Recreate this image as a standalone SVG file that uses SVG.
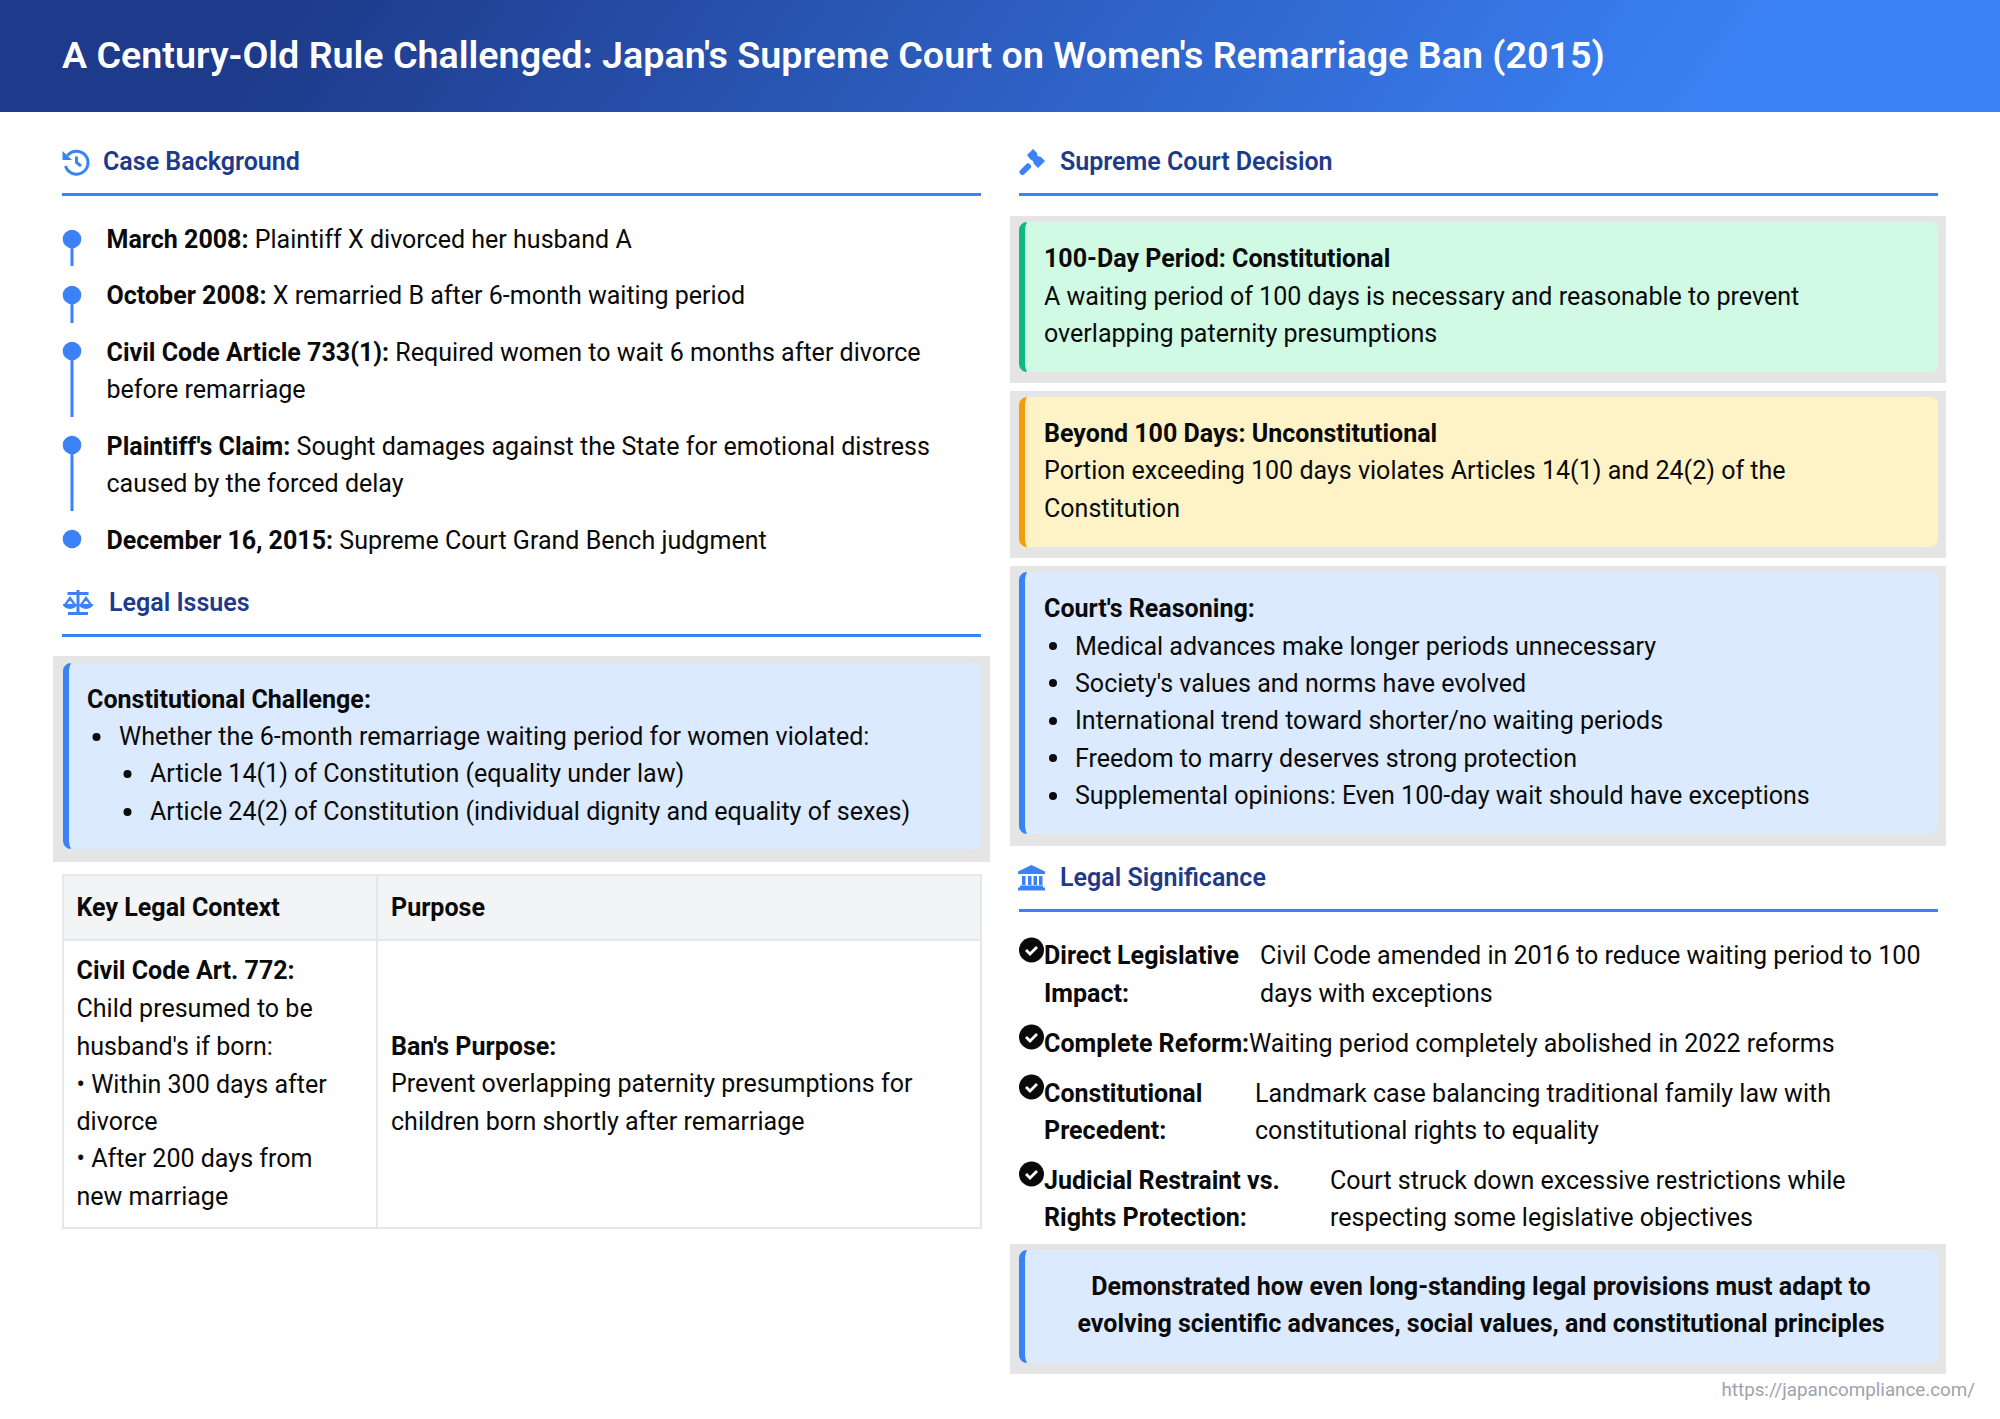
<svg xmlns="http://www.w3.org/2000/svg" width="2000" height="1419" viewBox="0 0 2000 1419">
<defs>
<linearGradient id="hg" gradientUnits="userSpaceOnUse" x1="500" y1="-300" x2="1500" y2="412"><stop offset="0" stop-color="#1e3a8a"/><stop offset="1" stop-color="#3b82f6"/></linearGradient>
</defs>
<style>
text{font-family:Roboto,"Liberation Sans",sans-serif;font-size:25.04px;fill:#0a0a0a}
.b{font-weight:700}
.h{font-size:25.04px;font-weight:600;fill:#1e3a8a}
.rule{fill:#3b82f6}
.gr{fill:#e5e5e5}
.tl{fill:#3b82f6}
.ic{fill:#3b82f6}
.c{text-anchor:middle}
.cell{fill:#fff;stroke:#e5e7eb;stroke-width:2}
</style>
<rect width="2000" height="1419" fill="#fff"/>
<g id="header"><rect width="2000" height="112" fill="url(#hg)"/><text x="62" y="68" style="font-size:37.65px;font-weight:600;fill:#fff">A Century-Old Rule Challenged: Japan's Supreme Court on Women's Remarriage Ban (2015)</text></g>

<g id="case-background">
<path class="ic" d="M62.500 151V160h9.500z"/><path d="M67.500 155.500A11.500 11.500 0 1 1 65.500 166" fill="none" stroke="#3b82f6" stroke-width="3"/><path d="M76.500 156.500V162.500L81 166" fill="none" stroke="#3b82f6" stroke-width="3"/>
<text class="h" x="103" y="170">Case Background</text><rect class="rule" x="62" y="193" width="919" height="3"/>
<circle class="tl" cx="72" cy="239" r="9.300"/><rect class="tl" x="70.500" y="239" width="3" height="27"/>
<text x="106.500" y="248"><tspan class="b">March 2008:</tspan> Plaintiff X divorced her husband A</text>
<circle class="tl" cx="72" cy="295" r="9.300"/><rect class="tl" x="70.500" y="295" width="3" height="28"/>
<text x="106.500" y="304"><tspan class="b">October 2008:</tspan> X remarried B after 6-month waiting period</text>
<circle class="tl" cx="72" cy="351" r="9.300"/><rect class="tl" x="70.500" y="351" width="3" height="66"/>
<text x="106.500" y="361"><tspan class="b">Civil Code Article 733(1):</tspan> Required women to wait 6 months after divorce</text>
<text x="106.500" y="398">before remarriage</text>
<circle class="tl" cx="72" cy="445" r="9.300"/><rect class="tl" x="70.500" y="445" width="3" height="66"/>
<text x="106.500" y="455"><tspan class="b">Plaintiff's Claim:</tspan> Sought damages against the State for emotional distress</text>
<text x="106.500" y="492">caused by the forced delay</text>
<circle class="tl" cx="72" cy="539" r="9.300"/>
<text x="106.500" y="549"><tspan class="b">December 16, 2015:</tspan> Supreme Court Grand Bench judgment</text>
</g>

<g id="legal-issues">
<path class="ic" d="M76.500 590h3v2h9v3h-9v17h8.500v3h-20v-3h8.500v-17h-9v-3h9z"/><path d="M70 598l-5 7h10zM86 598l-5 7h10z" fill="none" stroke="#3b82f6" stroke-width="2.200"/><path class="ic" d="M63 604h14a7 5 0 0 1-14 0zM79 604h14a7 5 0 0 1-14 0z"/>
<text class="h" x="109" y="611">Legal Issues</text><rect class="rule" x="62" y="634" width="919" height="3"/>
<rect class="gr" x="53" y="656" width="937" height="206"/>
<rect x="63" y="663" width="918" height="186" rx="8" fill="#dbeafe"/>
<path d="M71 663 A8 8 0 0 0 63 671 V841 A8 8 0 0 0 71 849 Q69 845 69 841 V671 Q69 667 71 663Z" fill="#3b82f6"/>
<text class="b" x="87" y="708">Constitutional Challenge:</text>
<circle cx="96.500" cy="737" r="4" fill="#0a0a0a"/><text x="119" y="745">Whether the 6-month remarriage waiting period for women violated:</text>
<circle cx="127.500" cy="774" r="4" fill="#0a0a0a"/><text x="150" y="782">Article 14(1) of Constitution (equality under law)</text>
<circle cx="127.500" cy="812" r="4" fill="#0a0a0a"/><text x="150" y="820">Article 24(2) of Constitution (individual dignity and equality of sexes)</text>
</g>

<g id="legal-table">
<rect class="cell" x="63" y="875" width="314" height="65" style="fill:#f3f4f6"/><rect class="cell" x="377" y="875" width="604" height="65" style="fill:#f3f4f6"/>
<rect class="cell" x="63" y="940" width="314" height="288"/><rect class="cell" x="377" y="940" width="604" height="288"/>
<text class="b" x="76.500" y="916">Key Legal Context</text><text class="b" x="391" y="916">Purpose</text>
<text class="b" x="76.500" y="979">Civil Code Art. 772:</text>
<text x="76.500" y="1017">Child presumed to be</text><text x="76.500" y="1054.500">husband's if born:</text><text x="76.500" y="1092.500">• Within 300 days after</text><text x="76.500" y="1129.500">divorce</text><text x="76.500" y="1167">• After 200 days from</text><text x="76.500" y="1204.500">new marriage</text>
<text class="b" x="391" y="1054.500">Ban's Purpose:</text><text x="391" y="1092">Prevent overlapping paternity presumptions for</text><text x="391" y="1129.500">children born shortly after remarriage</text>
</g>

<g id="court-decision">
<path d="M1022.500 172L1028 166.500" fill="none" stroke="#3b82f6" stroke-width="6" stroke-linecap="round"/><path class="ic" d="M1027 155L1033 149L1037 153L1037.500 156L1041 157L1045 161L1038 168L1034 164L1033 161L1030 159Z"/>
<text class="h" x="1060" y="170">Supreme Court Decision</text><rect class="rule" x="1019" y="193" width="919" height="3"/>
</g>
<g id="decision-100">
<rect class="gr" x="1010" y="216" width="936" height="167"/><rect x="1019" y="222" width="919" height="150" rx="8" fill="#d1fae5"/>
<path d="M1027 222 A8 8 0 0 0 1019 230 V364 A8 8 0 0 0 1027 372 Q1025 368 1025 364 V230 Q1025 226 1027 222Z" fill="#10b981"/>
<text class="b" x="1044" y="267">100-Day Period: Constitutional</text><text x="1044" y="304.500">A waiting period of 100 days is necessary and reasonable to prevent</text><text x="1044" y="342">overlapping paternity presumptions</text>
</g>
<g id="decision-beyond">
<rect class="gr" x="1010" y="391" width="936" height="167"/><rect x="1019" y="397" width="919" height="150" rx="8" fill="#fef3c7"/>
<path d="M1027 397 A8 8 0 0 0 1019 405 V539 A8 8 0 0 0 1027 547 Q1025 543 1025 539 V405 Q1025 401 1027 397Z" fill="#f59e0b"/>
<text class="b" x="1044" y="442">Beyond 100 Days: Unconstitutional</text><text x="1044" y="479">Portion exceeding 100 days violates Articles 14(1) and 24(2) of the</text><text x="1044" y="517">Constitution</text>
</g>
<g id="decision-reasoning">
<rect class="gr" x="1010" y="566" width="936" height="280"/><rect x="1019" y="572" width="919" height="262" rx="8" fill="#dbeafe"/>
<path d="M1027 572 A8 8 0 0 0 1019 580 V826 A8 8 0 0 0 1027 834 Q1025 830 1025 826 V580 Q1025 576 1027 572Z" fill="#3b82f6"/>
<text class="b" x="1044" y="617">Court's Reasoning:</text>
<circle cx="1053" cy="646" r="4" fill="#0a0a0a"/><text x="1075" y="654.500">Medical advances make longer periods unnecessary</text>
<circle cx="1053" cy="683" r="4" fill="#0a0a0a"/><text x="1075" y="691.500">Society's values and norms have evolved</text>
<circle cx="1053" cy="721" r="4" fill="#0a0a0a"/><text x="1075" y="729">International trend toward shorter/no waiting periods</text>
<circle cx="1053" cy="758" r="4" fill="#0a0a0a"/><text x="1075" y="766.500">Freedom to marry deserves strong protection</text>
<circle cx="1053" cy="796" r="4" fill="#0a0a0a"/><text x="1075" y="804">Supplemental opinions: Even 100-day wait should have exceptions</text>
</g>

<g id="legal-significance">
<path class="ic" d="M1031.500 865l13.500 6.500v2.500h-27v-2.500zM1022 876h3.500v9h-3.500zM1028 876h3.500v9h-3.500zM1033.500 876h3.500v9h-3.500zM1039 876h3.500v9h-3.500zM1020 885.500h23v2h2v3h-27v-3h2z"/>
<text class="h" x="1060" y="886">Legal Significance</text><rect class="rule" x="1019" y="909" width="919" height="3"/>
</g>
<g id="sig-1"><circle cx="1031.500" cy="950" r="12.500" fill="#0a0a0a"/><path d="M1026 950l4 4 7-7" fill="none" stroke="#fff" stroke-width="2.800"/>
<text class="b" x="1044" y="964">Direct Legislative</text><text class="b" x="1044" y="1002">Impact:</text><text x="1260" y="964">Civil Code amended in 2016 to reduce waiting period to 100</text><text x="1260" y="1002">days with exceptions</text></g>
<g id="sig-2"><circle cx="1031.500" cy="1037" r="12.500" fill="#0a0a0a"/><path d="M1026 1037l4 4 7-7" fill="none" stroke="#fff" stroke-width="2.800"/>
<text class="b" x="1044" y="1051.500">Complete Reform:</text><text x="1249" y="1051.500">Waiting period completely abolished in 2022 reforms</text></g>
<g id="sig-3"><circle cx="1031.500" cy="1087" r="12.500" fill="#0a0a0a"/><path d="M1026 1087l4 4 7-7" fill="none" stroke="#fff" stroke-width="2.800"/>
<text class="b" x="1044" y="1101.500">Constitutional</text><text class="b" x="1044" y="1139">Precedent:</text><text x="1255" y="1101.500">Landmark case balancing traditional family law with</text><text x="1255" y="1139">constitutional rights to equality</text></g>
<g id="sig-4"><circle cx="1031.500" cy="1174" r="12.500" fill="#0a0a0a"/><path d="M1026 1174l4 4 7-7" fill="none" stroke="#fff" stroke-width="2.800"/>
<text class="b" x="1044" y="1189">Judicial Restraint vs.</text><text class="b" x="1044" y="1226">Rights Protection:</text><text x="1330" y="1189">Court struck down excessive restrictions while</text><text x="1330" y="1226">respecting some legislative objectives</text></g>
<g id="conclusion">
<rect class="gr" x="1010" y="1244" width="936" height="130"/><rect x="1019" y="1250" width="919" height="113" rx="8" fill="#dbeafe"/>
<path d="M1027 1250 A8 8 0 0 0 1019 1258 V1355 A8 8 0 0 0 1027 1363 Q1025 1359 1025 1355 V1258 Q1025 1254 1027 1250Z" fill="#3b82f6"/>
<text class="b c" x="1481" y="1295">Demonstrated how even long-standing legal provisions must adapt to</text><text class="b c" x="1481" y="1332">evolving scientific advances, social values, and constitutional principles</text>
</g>
<text id="source" x="1975" y="1396" text-anchor="end" style="font-size:18.800px;fill:#9ca3af">https://japancompliance.com/</text>
</svg>
